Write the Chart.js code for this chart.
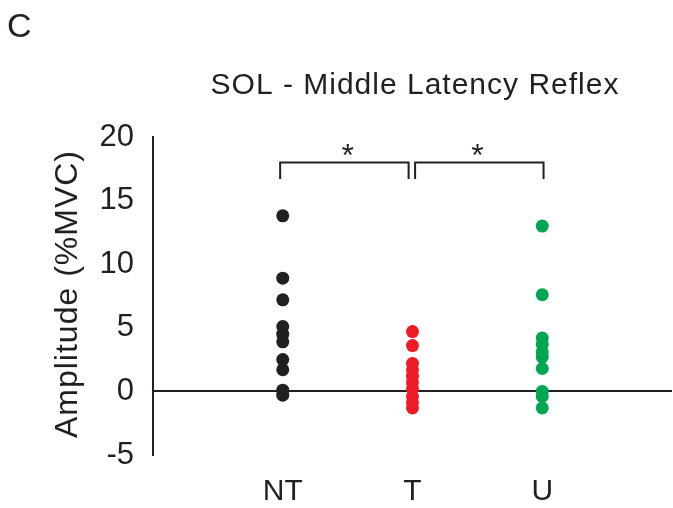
<!DOCTYPE html>
<html lang="en">
<head>
    <meta charset="UTF-8">
    <title>SOL - Middle Latency Reflex</title>
    <script src="https://cdn.jsdelivr.net/npm/chart.js"></script>
    <style>
        body { margin: 0; background: #fff; }
    </style>
</head>
<body>
    <canvas id="myChart" width="673" height="508"></canvas>

    <script>
// groups on the x axis and amplitude (%MVC) per subject
const groups = ['NT', 'T', 'U'];
const ntValues = [13.8, 8.9, 7.2, 5.1, 4.5, 3.9, 2.5, 1.7, 0.1, -0.3];
const tValues = [4.7, 3.6, 2.2, 1.7, 1.2, 0.7, 0.2, -0.4, -0.9, -1.3];
const uValues = [13.0, 7.6, 4.2, 3.7, 3.1, 2.7, 1.8, 0.0, -0.4, -1.3];
const yTicks = [-5, 0, 5, 10, 15, 20];

// significance brackets: NT vs T, T vs U
const bracketTop = 18.0;
const bracketFoot = 16.7;

const ink = '#231f20';
const font = '"Liberation Sans", Arial, sans-serif';

function toPoints(values, groupIndex) {
    return values.map(v => ({ x: groupIndex + 1, y: v }));
}

function dotSet(values, i, color) {
    return {
        data: toPoints(values, i),
        backgroundColor: color,
        borderColor: color,
        pointRadius: 6.5,
        pointHoverRadius: 6.5,
        borderWidth: 0
    };
}

function bracketSet(x0, x1) {
    return {
        type: 'line',
        data: [
            { x: x0, y: bracketFoot }, { x: x0, y: bracketTop },
            { x: x1, y: bracketTop }, { x: x1, y: bracketFoot }
        ],
        borderColor: ink,
        borderWidth: 2,
        pointRadius: 0,
        fill: false,
        tension: 0
    };
}

// text that sits outside the axes: panel letter, title, y title, stars
const labelsPlugin = {
    id: 'labels',
    afterDraw(chart) {
        const c = chart.ctx;
        const xs = chart.scales.x, ys = chart.scales.y;
        c.save();
        c.fillStyle = ink;
        c.textBaseline = 'middle';

        c.font = '34px ' + font;
        c.textAlign = 'left';
        c.fillText('C', 7, 28);

        c.font = '30px ' + font;
        c.letterSpacing = '1px';
        c.textAlign = 'center';
        c.fillText('SOL - Middle Latency Reflex', 415, 86);

        c.save();
        c.font = '32px ' + font;
        c.translate(68, 294);
        c.rotate(-Math.PI / 2);
        c.fillText('Amplitude (%MVC)', 0, 0);
        c.restore();

        c.letterSpacing = '0px';
        c.font = '32px ' + font;
        c.fillText('*', xs.getPixelForValue(1.5), ys.getPixelForValue(18.4));
        c.fillText('*', xs.getPixelForValue(2.5), ys.getPixelForValue(18.4));
        c.restore();
    }
};

var ctx = document.getElementById('myChart').getContext('2d');
var myChart = new Chart(ctx, {
    type: 'scatter',
    data: {
        datasets: [
            dotSet(ntValues, 0, ink),
            dotSet(tValues, 1, '#ed1c24'),
            dotSet(uValues, 2, '#00a651'),
            bracketSet(0.98, 1.97),
            bracketSet(2.02, 3.01)
        ]
    },
    options: {
        responsive: false,
        animation: false,
        layout: { autoPadding: false, padding: { top: 137, right: 1, left: 0, bottom: 0 } },
        plugins: {
            legend: { display: false },
            tooltip: { enabled: false }
        },
        scales: {
            x: {
                type: 'linear',
                min: 0,
                max: 4,
                afterBuildTicks: s => { s.ticks = groups.map((g, i) => ({ value: i + 1 })); },
                afterFit: s => { s.height = 53; s.paddingLeft = 0; s.paddingRight = 0; },
                ticks: {
                    callback: v => groups[v - 1],
                    color: ink,
                    font: { size: 30, family: font },
                    padding: 11,
                    maxRotation: 0,
                    autoSkip: false
                },
                grid: { display: false },
                border: { display: false }
            },
            y: {
                min: -5,
                max: 20,
                afterBuildTicks: s => { s.ticks = yTicks.map(v => ({ value: v })); },
                afterFit: s => { s.width = 153; s.paddingTop = 0; s.paddingBottom = 0; },
                ticks: {
                    color: ink,
                    font: { size: 31, family: font },
                    padding: 19
                },
                grid: {
                    drawTicks: false,
                    lineWidth: 2,
                    color: c => (c.tick && c.tick.value === 0 ? ink : 'rgba(0,0,0,0)')
                },
                border: { display: true, color: ink, width: 2 }
            }
        }
    },
    plugins: [labelsPlugin]
});
    </script>
</body>
</html>
